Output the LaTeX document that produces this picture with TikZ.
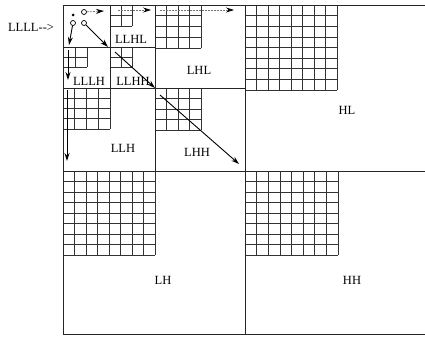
\documentclass[tikz,border=0pt]{standalone}
\usepackage{fontspec}
\setmainfont{Liberation Serif}
\usetikzlibrary{arrows.meta}
\tikzset{
  frame/.style={line width=0.7pt, black!85},
  gridln/.style={line width=0.55pt, black!80},
  arr/.style={line width=0.9pt, black, -{Stealth[length=8pt,width=5pt]}},
  darr/.style={line width=0.7pt, black!55, dash pattern=on 2pt off 1pt, -{Stealth[length=8pt,width=5pt,color=black]}},
  lbl/.style={font=\fontsize{12.5}{14}\selectfont, inner sep=0pt},
  hollow/.style={circle, draw, line width=0.7pt, minimum size=5pt, inner sep=0pt},
  filled/.style={circle, fill, minimum size=3pt, inner sep=0pt}
}
\newcommand\sbgrid[5]{%
  \foreach \k in {0,...,#5}{%
    \draw[gridln] ({#1+(#3-#1)*\k/#5},#2) -- ({#1+(#3-#1)*\k/#5},#4);
    \draw[gridln] (#1,{#2+(#4-#2)*\k/#5}) -- (#3,{#2+(#4-#2)*\k/#5});
  }}
\begin{document}
\begin{tikzpicture}[x=1pt,y=-1pt]
\useasboundingbox (0,0) rectangle (425,337);
% grids
\sbgrid{245}{5}{337}{90}{8}
\sbgrid{63}{171}{155}{255}{8}
\sbgrid{245}{171}{338}{255}{8}
\sbgrid{155}{5}{201}{48}{4}
\sbgrid{155}{88}{201}{130}{4}
\sbgrid{63}{88}{110}{129}{4}
\sbgrid{110}{5}{132}{26}{2}
\sbgrid{110}{47}{132}{67}{2}
\sbgrid{63}{47}{87}{67}{2}
% frame lines
\draw[frame] (425,5) -- (63,5) -- (63,334) -- (425,334);
\draw[frame] (245,5) -- (245,334);
\draw[frame] (63,171) -- (425,171);
\draw[frame] (155,5) -- (155,171);
\draw[frame] (63,88) -- (245,88);
\draw[frame] (110,5) -- (110,88);
\draw[frame] (63,47) -- (155,47);
% markers
\node[filled] (m0) at (73,15) {};
\node[hollow] (m1) at (84,12) {};
\node[hollow] (m2) at (73,23) {};
\node[hollow] (m3) at (84,23) {};
% arrow coordinates
\coordinate (h1) at (104,11);
\coordinate (h2s) at (118,10);
\coordinate (h2) at (151,10);
\coordinate (h3s) at (160,10);
\coordinate (h3) at (234,10);
\coordinate (v1) at (69,45);
\coordinate (v2s) at (68,50);
\coordinate (v2) at (68,80);
\coordinate (v3s) at (67,90);
\coordinate (v3) at (67,161);
\coordinate (d1) at (108,47);
\coordinate (d2s) at (115,52);
\coordinate (d2) at (155,88);
\coordinate (d3s) at (160,95);
\coordinate (d3) at (239,164);
% arrows
\draw[darr] (m1) -- (h1);
\draw[darr] (h2s) -- (h2);
\draw[darr] (h3s) -- (h3);
\draw[arr] (m2) -- (v1);
\draw[arr] (v2s) -- (v2);
\draw[arr] (v3s) -- (v3);
\draw[arr] (m3) -- (d1);
\draw[arr] (d2s) -- (d2);
\draw[arr] (d3s) -- (d3);
% labels
\node[lbl] (lLLLL) at (31,27) {LLLL{-}{-}>};
\node[lbl] (lLLHL) at (131,39) {LLHL};
\node[lbl] (lLHL) at (199,70) {LHL};
\node[lbl] (lLLLH) at (89,81) {LLLH};
\node[lbl] (lLLHH) at (133,81) {LLHH};
\node[lbl] (lLLH) at (123,148) {LLH};
\node[lbl] (lLHH) at (197,152) {LHH};
\node[lbl] (lHL) at (347,110) {HL};
\node[lbl] (lLH) at (163,280) {LH};
\node[lbl] (lHH) at (352,280) {HH};
\end{tikzpicture}
\end{document}
